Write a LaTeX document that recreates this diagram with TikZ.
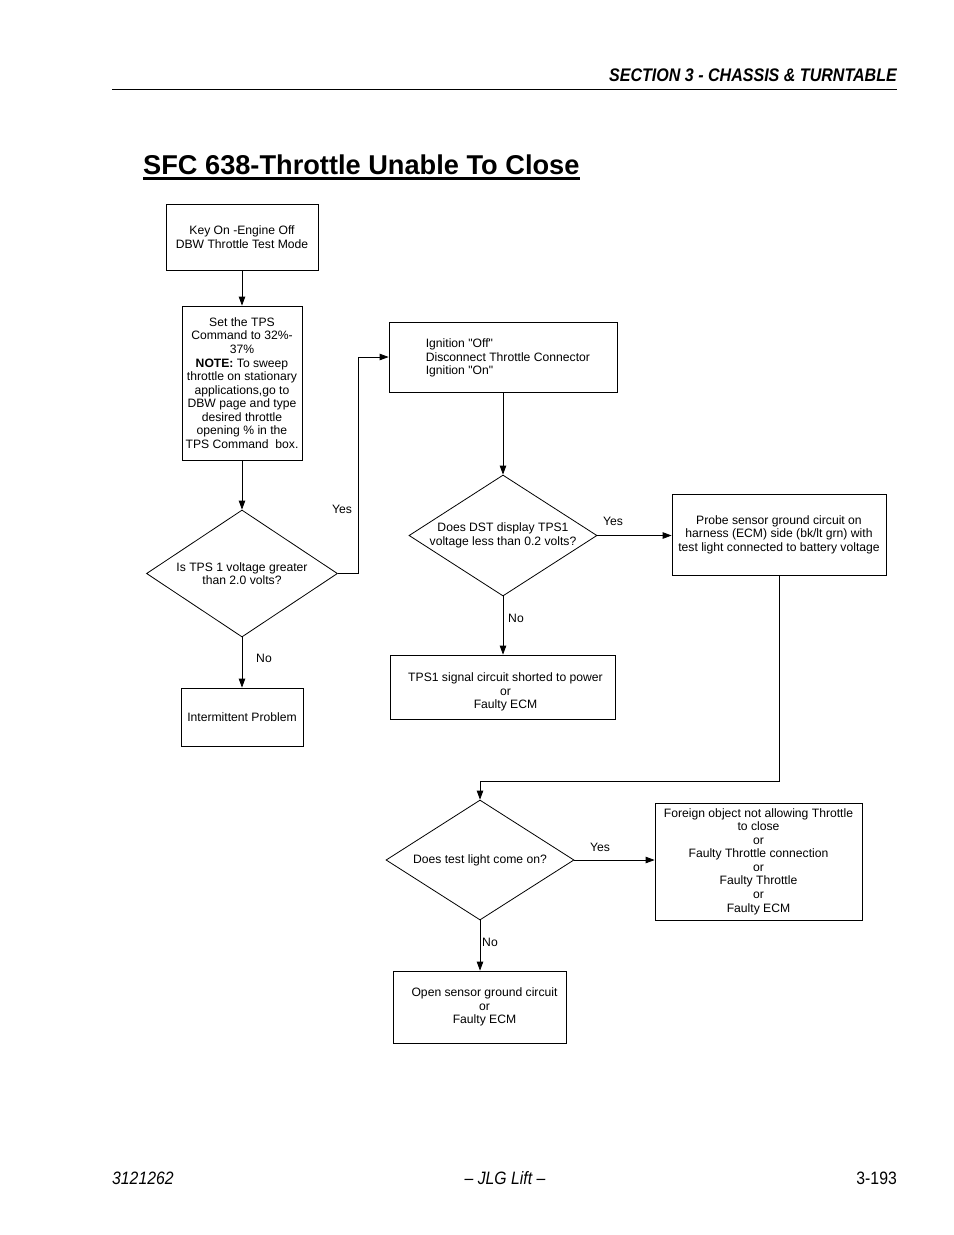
\documentclass[tikz,border=0pt]{standalone}
\usepackage{fontspec}
\setmainfont{Liberation Sans}[Ligatures=TeXOff]
\newfontfamily\narrowfont[FakeStretch=0.88,Ligatures=TeXOff]{Liberation Sans}
\usetikzlibrary{arrows.meta,shapes.geometric,calc}
\newcommand{\boxfont}{\fontsize{12.2}{13.6}\selectfont}
\begin{document}
\begin{tikzpicture}[x=1bp,y=-1bp,
  box/.style={draw, line width=0.8bp, inner sep=0pt, align=center, font=\boxfont},
  dia/.style={draw, diamond, line width=0.8bp, inner sep=0pt},
  arr/.style={line width=0.8bp, -{Triangle[length=9bp,width=6.5bp]}},
  lbl/.style={font=\boxfont, inner sep=0pt},
  dtext/.style={font=\boxfont, align=center, inner sep=0pt}]
\useasboundingbox[fill=white] (0,0) rectangle (954,1235);

% header
\node[anchor=base east, inner sep=0pt, font=\narrowfont\bfseries\itshape\fontsize{18.3}{21}\selectfont] (hdr) at (897,81) {SECTION 3 - CHASSIS \& TURNTABLE};
\draw[line width=1bp] (112,89) -- (897,89);

% title
\node[anchor=base west, inner sep=0pt, font=\bfseries\fontsize{27.3}{30}\selectfont] (title) at (143,174) {SFC 638-Throttle Unable To Close};
\draw[line width=2.4bp] ($(title.base west)+(0,4.5)$) -- ($(title.base east)+(0,4.5)$);

% boxes
\node[box, minimum width=152bp, minimum height=66bp] (b1) at (242,237) {Key On -Engine Off\\DBW Throttle Test Mode};
\node[box, minimum width=120bp, minimum height=154bp] (b2) at (242,383) {Set the TPS\\Command to 32\%-\\37\%\\\textbf{NOTE:} To sweep\\throttle on stationary\\applications,go to\\DBW page and type\\desired throttle\\opening \% in the\\TPS Command\ \ box.};
\node[dia, minimum width=191bp, minimum height=127bp,
  label={[dtext]center:Is TPS 1 voltage greater\\than 2.0 volts?}] (d1) at (242,573.5) {};
\node[box, minimum width=122bp, minimum height=58bp] (bi) at (242,717) {Intermittent Problem};

\node[box, minimum width=228bp, minimum height=70bp] (b3) at (503,357) {};
\node[anchor=west, align=left, font=\boxfont, inner sep=0pt] (b3t) at ($(b3.west)+(37,1)$) {Ignition "Off"\\Disconnect Throttle Connector\\Ignition "On"};

\node[dia, minimum width=188bp, minimum height=121bp,
  label={[dtext]center:Does DST display TPS1\\voltage less than 0.2 volts?}] (d2) at (503,535.5) {};
\node[box, minimum width=214bp, minimum height=81bp] (b4) at (779,534.5) {Probe sensor ground circuit on\\harness (ECM) side (bk/lt grn) with\\test light connected to battery voltage};
\node[box, minimum width=225bp, minimum height=64bp,
  label={[dtext,yshift=-5bp,xshift=3bp]center:TPS1 signal circuit shorted to power\\or\\Faulty ECM}] (b5) at (502.5,687) {};

\node[dia, minimum width=188bp, minimum height=120bp,
  label={[dtext]center:Does test light come on?}] (d3) at (480,860) {};
\node[box, minimum width=207bp, minimum height=117bp] (b6) at (758.5,861.5) {Foreign object not allowing Throttle\\to close\\or\\Faulty Throttle connection\\or\\Faulty Throttle\\or\\Faulty ECM};
\node[box, minimum width=173bp, minimum height=72bp,
  label={[dtext,xshift=5bp]center:Open sensor ground circuit\\or\\Faulty ECM}] (b7) at (479.5,1007) {};

% connectors
\coordinate (c1) at (358,573.5);
\coordinate (c2) at (480,781);
\draw[arr] (b1.south) -- (b2.north);
\draw[arr] (b2.south) -- (d1.north);
\draw[arr] (d1.east) -- (c1) |- (b3.west);
\draw[arr] (d1.south) -- (bi.north);
\draw[arr] (b3.south) -- (d2.north);
\draw[arr] (d2.east) -- (d2.east -| b4.west);
\draw[arr] (d2.south) -- (d2.south |- b5.north);
\draw[arr] (b4.south) |- (c2) -- (d3.north);
\draw[arr] (d3.east) -- (d3.east -| b6.west);
\draw[arr] (d3.south) -- (d3.south |- b7.north);

% labels
\node[lbl] (y1) at (342,509) {Yes};
\node[lbl] (n1) at (264,658) {No};
\node[lbl] (y2) at (613,521) {Yes};
\node[lbl] (n2) at (516,618) {No};
\node[lbl] (y3) at (600,847) {Yes};
\node[lbl] (n3) at (490,942) {No};

% footer
\node[anchor=base west, inner sep=0pt, font=\narrowfont\itshape\fontsize{18}{21}\selectfont] (f1) at (112,1184) {3121262};
\node[anchor=base, inner sep=0pt, font=\narrowfont\itshape\fontsize{18}{21}\selectfont] (f2) at (505,1184) {– JLG Lift –};
\node[anchor=base east, inner sep=0pt, font=\narrowfont\fontsize{18}{21}\selectfont] (f3) at (897,1184) {3-193};
\end{tikzpicture}
\end{document}
